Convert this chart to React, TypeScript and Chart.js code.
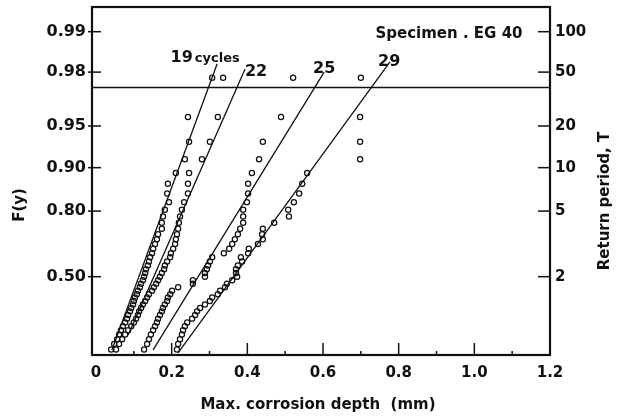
import React, { useEffect, useRef } from "react";
import { Chart, registerables } from "chart.js";

Chart.register(...registerables);

// Plotting positions F(y) shared by the four samples
const F_LEVELS = [0.087, 0.109, 0.130, 0.152, 0.174, 0.196, 0.217, 0.239, 0.261, 0.283, 0.304, 0.326, 0.348, 0.370, 0.391, 0.413, 0.435, 0.457, 0.478, 0.500, 0.522, 0.543, 0.565, 0.587, 0.609, 0.630, 0.652, 0.674, 0.696, 0.717, 0.739, 0.761, 0.783, 0.804, 0.826, 0.848, 0.870, 0.891, 0.913, 0.935, 0.957, 0.978];

// Max. corrosion depth (mm) for each sample, in the order of F_LEVELS
const DEPTH_19 = [0.040, 0.048, 0.056, 0.061, 0.066, 0.071, 0.077, 0.082, 0.085, 0.090, 0.093, 0.098, 0.100, 0.103, 0.108, 0.111, 0.116, 0.119, 0.124, 0.127, 0.130, 0.132, 0.137, 0.140, 0.143, 0.148, 0.151, 0.156, 0.161, 0.164, 0.174, 0.174, 0.177, 0.182, 0.193, 0.188, 0.190, 0.211, 0.235, 0.246, 0.243, 0.307];
const DEPTH_22 = [0.053, 0.061, 0.069, 0.077, 0.085, 0.093, 0.100, 0.106, 0.111, 0.114, 0.119, 0.124, 0.130, 0.135, 0.140, 0.148, 0.153, 0.159, 0.164, 0.169, 0.174, 0.180, 0.182, 0.188, 0.196, 0.198, 0.204, 0.209, 0.211, 0.214, 0.217, 0.219, 0.222, 0.227, 0.233, 0.243, 0.243, 0.246, 0.280, 0.301, 0.322, 0.336];
const DEPTH_25 = [0.127, 0.135, 0.140, 0.145, 0.151, 0.156, 0.161, 0.164, 0.169, 0.174, 0.177, 0.182, 0.188, 0.190, 0.196, 0.201, 0.217, 0.256, 0.256, 0.288, 0.288, 0.293, 0.296, 0.301, 0.307, 0.338, 0.352, 0.360, 0.367, 0.375, 0.381, 0.389, 0.389, 0.389, 0.399, 0.402, 0.402, 0.412, 0.431, 0.441, 0.489, 0.521];
const DEPTH_29 = [0.214, 0.217, 0.222, 0.227, 0.230, 0.235, 0.241, 0.254, 0.262, 0.267, 0.275, 0.288, 0.301, 0.307, 0.322, 0.328, 0.341, 0.346, 0.360, 0.373, 0.370, 0.370, 0.375, 0.386, 0.383, 0.402, 0.404, 0.428, 0.441, 0.439, 0.441, 0.471, 0.510, 0.508, 0.523, 0.537, 0.545, 0.558, 0.698, 0.698, 0.698, 0.700];

// Fitted straight lines (end points: depth mm, F)
const FIT_19_X = [0.042, 0.320];
const FIT_19_F = [0.0855, 0.9826];
const FIT_22_X = [0.085, 0.394];
const FIT_22_F = [0.150, 0.9810];
const FIT_25_X = [0.151, 0.603];
const FIT_25_F = [0.0855, 0.9800];
const FIT_29_X = [0.217, 0.777];
const FIT_29_F = [0.0750, 0.9832];

const HLINE_F = 0.974;

const CYCLE_LABELS = ["19", "cycles", "22", "25", "29"];
const SPECIMEN_LABEL = "Specimen . EG 40";

const X_TICKS = [0, 0.2, 0.4, 0.6, 0.8, 1.0, 1.2];
const X_TICK_LABELS = ["0", "0.2", "0.4", "0.6", "0.8", "1.0", "1.2"];
const X_MINOR = [0.1, 0.3, 0.5, 0.7, 0.9, 1.1];
const F_TICKS = [0.5, 0.8, 0.9, 0.95, 0.98, 0.99];
const F_TICK_LABELS = ["0.50", "0.80", "0.90", "0.95", "0.98", "0.99"];
const T_TICKS = [2, 5, 10, 20, 50, 100];
const T_TICK_LABELS = ["2", "5", "10", "20", "50", "100"];

const X_TITLE = "Max. corrosion depth  (mm)";
const Y_TITLE = "F(y)";
const Y2_TITLE = "Return period, T";

// Gumbel probability paper: reduced variate
const gumbel = (F: number) => -Math.log(-Math.log(F));
const tToF = (T: number) => 1 - 1 / T;

const INK = "#111111";
const FONT = "'DejaVu Sans', sans-serif";

const Y_MIN = -0.987;
const Y_MAX = 5.027;

const toPts = (xs: number[], fs: number[]) => xs.map((x, i) => ({ x, y: gumbel(fs[i]) }));

const decor = {
  id: "decor",
  afterDraw(chart: any) {
    const { ctx, chartArea: a, scales } = chart;
    const xs = scales.x;
    const ys = scales.y;
    const y2 = scales.y2;
    const seg = (x1: number, y1: number, x2: number, y2_: number) => {
      ctx.beginPath();
      ctx.moveTo(x1, y1);
      ctx.lineTo(x2, y2_);
      ctx.stroke();
    };
    ctx.save();
    ctx.strokeStyle = INK;
    ctx.lineWidth = 2.2;
    ctx.strokeRect(a.left, a.top, a.right - a.left, a.bottom - a.top);
    ctx.lineWidth = 1.5;
    F_TICKS.forEach((f) => {
      const y = ys.getPixelForValue(gumbel(f));
      seg(a.left - 4, y, a.left + 9, y);
    });
    T_TICKS.forEach((t) => {
      const y = y2.getPixelForValue(gumbel(tToF(t)));
      seg(a.right - 12, y, a.right, y);
    });
    X_TICKS.forEach((v) => {
      if (v === 0 || v === 1.2) return;
      const x = xs.getPixelForValue(v);
      seg(x, a.bottom, x, a.bottom - 12);
    });
    X_MINOR.forEach((v) => {
      const x = xs.getPixelForValue(v);
      seg(x, a.bottom, x, a.bottom - 4);
    });

    ctx.fillStyle = INK;
    ctx.textBaseline = "alphabetic";
    const px = (xv: number) => xs.getPixelForValue(xv);
    const py = (gv: number) => ys.getPixelForValue(gv);
    // "19 cycles"
    ctx.textAlign = "left";
    ctx.font = `bold 16px ${FONT}`;
    const x19 = px(0.197);
    const base19 = py(4.08);
    ctx.fillText(CYCLE_LABELS[0], x19, base19);
    const w19 = ctx.measureText(CYCLE_LABELS[0]).width;
    ctx.font = `bold 13px ${FONT}`;
    ctx.fillText(CYCLE_LABELS[1], x19 + w19 + 2, base19);

    ctx.textAlign = "center";
    ctx.textBaseline = "middle";
    ctx.font = `bold 16px ${FONT}`;
    ctx.fillText(CYCLE_LABELS[2], px(0.423), py(3.904));
    ctx.fillText(CYCLE_LABELS[3], px(0.603), py(3.956));
    ctx.fillText(CYCLE_LABELS[4], px(0.775), py(4.077));
    ctx.font = `bold 15px ${FONT}`;
    ctx.fillText(SPECIMEN_LABEL, px(0.933), py(4.561));

    // axis titles
    ctx.font = `bold 15px ${FONT}`;
    ctx.fillText(X_TITLE, (a.left + a.right) / 2 - 3, 405);
    ctx.save();
    ctx.translate(20, 205);
    ctx.rotate(-Math.PI / 2);
    ctx.fillText(Y_TITLE, 0, 0);
    ctx.restore();
    ctx.save();
    ctx.translate(605, 201);
    ctx.rotate(-Math.PI / 2);
    ctx.fillText(Y2_TITLE, 0, 0);
    ctx.restore();
    ctx.restore();
  },
};

export default function App() {
  const ref = useRef<HTMLCanvasElement | null>(null);
  useEffect(() => {
    if (!ref.current) return;
    const pointDs = (xs: number[]) => ({
      type: "scatter" as const,
      data: toPts(xs, F_LEVELS),
      pointStyle: "circle",
      pointRadius: 2.6,
      pointBorderWidth: 1.25,
      borderColor: INK,
      backgroundColor: "rgba(0,0,0,0)",
      showLine: false,
    });
    const lineDs = (xs: number[], fs: number[]) => ({
      type: "scatter" as const,
      data: toPts(xs, fs),
      showLine: true,
      borderColor: INK,
      borderWidth: 1.3,
      pointRadius: 0,
      fill: false,
    });
    const noPadV = (s: any) => {
      s.paddingTop = 0;
      s.paddingBottom = 0;
    };
    const chart = new Chart(ref.current, {
      type: "scatter",
      data: {
        datasets: [
          pointDs(DEPTH_19),
          pointDs(DEPTH_22),
          pointDs(DEPTH_25),
          pointDs(DEPTH_29),
          lineDs(FIT_19_X, FIT_19_F),
          lineDs(FIT_22_X, FIT_22_F),
          lineDs(FIT_25_X, FIT_25_F),
          lineDs(FIT_29_X, FIT_29_F),
          { ...lineDs([-0.0106, 1.2], [HLINE_F, HLINE_F]), borderWidth: 1.6 },
        ] as any,
      },
      options: {
        animation: false,
        responsive: false,
        events: [],
        layout: { padding: { top: 7, left: 0, right: 0, bottom: 0 } },
        plugins: { legend: { display: false }, tooltip: { enabled: false }, title: { display: false } },
        scales: {
          x: {
            type: "linear",
            min: -0.0106,
            max: 1.2,
            grid: { display: false, drawTicks: false },
            border: { display: false },
            afterBuildTicks: (ax: any) => {
              ax.ticks = X_TICKS.map((v) => ({ value: v }));
            },
            afterFit: (s: any) => {
              s.height = 61;
              s.paddingLeft = 0;
              s.paddingRight = 0;
            },
            ticks: {
              autoSkip: false,
              maxRotation: 0,
              padding: 9,
              color: INK,
              font: { family: FONT, size: 15, weight: "bold" },
              callback: (_v: any, i: number) => X_TICK_LABELS[i],
            },
          },
          y: {
            type: "linear",
            position: "left",
            min: Y_MIN,
            max: Y_MAX,
            grid: { display: false, drawTicks: false },
            border: { display: false },
            afterBuildTicks: (ax: any) => {
              ax.ticks = F_TICKS.map((f) => ({ value: gumbel(f) }));
            },
            afterFit: (s: any) => {
              s.width = 92;
              noPadV(s);
            },
            ticks: {
              autoSkip: false,
              padding: 6,
              color: INK,
              font: { family: FONT, size: 16, weight: "bold" },
              callback: (_v: any, i: number) => F_TICK_LABELS[i],
            },
          },
          y2: {
            type: "linear",
            position: "right",
            min: Y_MIN,
            max: Y_MAX,
            grid: { display: false, drawTicks: false },
            border: { display: false },
            afterBuildTicks: (ax: any) => {
              ax.ticks = T_TICKS.map((t) => ({ value: gumbel(tToF(t)) }));
            },
            afterFit: (s: any) => {
              s.width = 76;
              noPadV(s);
            },
            ticks: {
              autoSkip: false,
              padding: 5,
              color: INK,
              font: { family: FONT, size: 15, weight: "bold" },
              callback: (_v: any, i: number) => T_TICK_LABELS[i],
            },
          },
        },
      } as any,
      plugins: [decor],
    });
    return () => chart.destroy();
  }, []);
  return (
    <div style={{ position: "fixed", left: 0, top: 0, width: 626, height: 416, background: "#fff" }}>
      <canvas ref={ref} width={626} height={416} style={{ display: "block" }} />
    </div>
  );
}
